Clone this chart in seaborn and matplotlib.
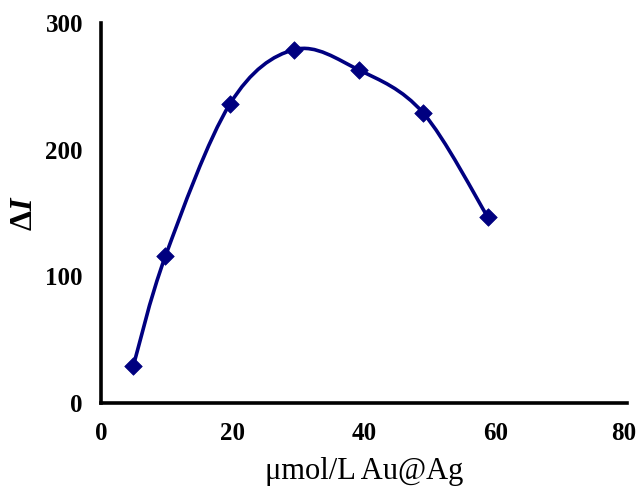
import numpy as np
import pandas as pd
import matplotlib
matplotlib.use("Agg")
import matplotlib.pyplot as plt
import matplotlib.transforms as mtransforms
from matplotlib.path import Path
from matplotlib.patches import PathPatch
import seaborn as sns

# data
conc = [4.9, 9.8, 19.6, 29.4, 39.2, 49.0, 58.8]
delta_i = [29, 116, 236, 279, 263, 229, 147]
x_ticks = [0, 20, 40, 60, 80]
y_ticks = [0, 100, 200, 300]
x_label = "μmol/L Au@Ag"
y_label = r"$\Delta I$"

sns.set_theme(style="white")
plt.rcParams['font.family'] = ['Liberation Serif', 'DejaVu Serif']
plt.rcParams['mathtext.fontset'] = 'custom'
plt.rcParams['mathtext.rm'] = 'Liberation Serif:bold'
plt.rcParams['mathtext.it'] = 'Liberation Serif:italic:bold'
plt.rcParams['mathtext.bf'] = 'Liberation Serif:bold'

color = "#000080"
df = pd.DataFrame({"x": conc, "y": delta_i})

fig = plt.figure(figsize=(6.38, 4.9), dpi=100)
ax = fig.add_axes([101/638, 1-403/490, (627-101)/638, (403-23)/490])

# Excel-style smoothed line: cubic Bezier segments (Catmull-Rom) through the data points
pts = np.column_stack([conc, delta_i]).astype(float)
verts = [tuple(pts[0])]
codes = [Path.MOVETO]
n = len(pts)
for i in range(n - 1):
    p0 = pts[i - 1] if i > 0 else pts[i]
    p1 = pts[i]
    p2 = pts[i + 1]
    p3 = pts[i + 2] if i + 2 < n else pts[i + 1]
    c1 = p1 + (p2 - p0) / 6.0
    c2 = p2 - (p3 - p1) / 6.0
    verts += [tuple(c1), tuple(c2), tuple(p2)]
    codes += [Path.CURVE4] * 3
ax.add_patch(PathPatch(Path(verts, codes), facecolor="none", edgecolor=color,
                       lw=2.6, capstyle="round", joinstyle="round", zorder=2))

sns.scatterplot(data=df, x="x", y="y", ax=ax, marker="D", s=80, color=color,
                edgecolor=color, linewidth=0.5, zorder=3, legend=False)

ax.set_xlim(0, 80)
ax.set_ylim(0, 300)
ax.set_xticks(x_ticks)
ax.set_yticks(y_ticks)
ax.set_xticklabels([str(t) for t in x_ticks], fontsize=18, fontweight="bold")
ax.set_yticklabels([str(t) for t in y_ticks], fontsize=18, fontweight="bold")
ax.tick_params(axis="x", direction="in", length=8, width=2.4, pad=14, colors="black")
ax.tick_params(axis="y", direction="out", length=5, width=2.4, pad=8, colors="black")
# keep the last x tick label inside the canvas
last = ax.get_xticklabels()[-1]
last.set_transform(last.get_transform() + mtransforms.ScaledTranslation(-3/100, 0, fig.dpi_scale_trans))
for s in ["top", "right"]:
    ax.spines[s].set_visible(False)
for s in ["left", "bottom"]:
    ax.spines[s].set_linewidth(2.6)
    ax.spines[s].set_color("black")
ax.grid(False)
ax.set_xlabel(x_label, fontsize=22, labelpad=8, color="black")
ax.set_ylabel(y_label, fontsize=23, color="black")
ax.yaxis.set_label_coords(-0.118, 0.5)

fig.savefig("out.png", dpi=100)
